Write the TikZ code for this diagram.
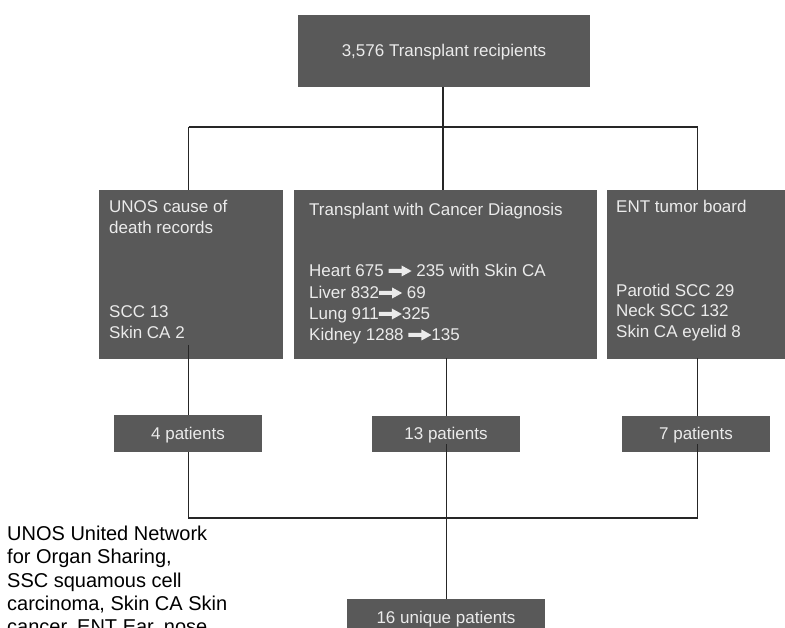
\documentclass[tikz,border=0pt]{standalone}
\usepackage{fontspec}
\setmainfont{Liberation Sans}
\definecolor{boxgray}{HTML}{595959}
\definecolor{boxtext}{HTML}{EBEBEB}
\newcommand\fatarrow{\tikz[baseline=0pt,x=1pt,y=1pt]\fill[boxtext] (0,4) -- (13,4) -- (13,0.5) -- (23,6) -- (13,11.5) -- (13,8) -- (0,8) -- cycle;}
\begin{document}
\begin{tikzpicture}[x=1pt,y=-1pt,
  darkbox/.style={fill=boxgray, inner sep=0pt, draw=none},
  boxline/.style={text=boxtext, anchor=base west, inner sep=0pt, font=\fontsize{17}{21}\selectfont},
  boxlabel/.style={text=boxtext, anchor=base, inner sep=0pt, font=\fontsize{17}{21}\selectfont},
  note/.style={text=black, anchor=base west, inner sep=0pt, font=\fontsize{20}{24}\selectfont},
  conn/.style={draw=black!85, line width=1.6pt}]
\clip (0,0) rectangle (785,628);
\useasboundingbox (0,0) rectangle (785,628);
\fill[white] (0,0) rectangle (785,628);

% boxes
\node[darkbox, minimum width=292pt, minimum height=72pt] (top) at (444,51) {};
\node[darkbox, minimum width=184pt, minimum height=169pt] (unos) at (191,274.5) {};
\node[darkbox, minimum width=303pt, minimum height=169pt] (tcd) at (445.5,274.5) {};
\node[darkbox, minimum width=179pt, minimum height=169pt] (ent) at (696.5,274.5) {};
\node[darkbox, minimum width=148pt, minimum height=37pt] (p4) at (188,433.5) {};
\node[darkbox, minimum width=148pt, minimum height=36pt] (p13) at (446,434) {};
\node[darkbox, minimum width=148pt, minimum height=36pt] (p7) at (696,434) {};
\node[darkbox, minimum width=198pt, minimum height=42pt] (p16) at (446,620) {};

% texts
\node[boxlabel] (ttop) at (444,57) {3,576 Transplant recipients};
\node[boxline] (u1) at (109,213) {UNOS cause of};
\node[boxline] (u2) at (109,234) {death records};
\node[boxline] (u3) at (109,318) {SCC 13};
\node[boxline] (u4) at (109,339) {Skin CA 2};
\node[boxline] (c1) at (309,216) {Transplant with Cancer Diagnosis};
\node[boxline] (c2) at (309,277) {Heart 675 \fatarrow{} 235 with Skin CA};
\node[boxline] (c3) at (309,299) {Liver 832\fatarrow{} 69};
\node[boxline] (c4) at (309,320) {Lung 911\fatarrow325};
\node[boxline] (c5) at (309,341) {Kidney 1288 \fatarrow135};
\node[boxline] (e1) at (616,213) {ENT tumor board};
\node[boxline] (e2) at (616,297) {Parotid SCC 29};
\node[boxline] (e3) at (616,317) {Neck SCC 132};
\node[boxline] (e4) at (616,338) {Skin CA eyelid 8};
\node[boxlabel] (t4) at (188,439) {4 patients};
\node[boxlabel] (t13) at (446,439) {13 patients};
\node[boxlabel] (t7) at (696,439) {7 patients};
\node[boxlabel] (t16) at (446,623) {16 unique patients};

% footnote
\node[note] (n1) at (7,540) {UNOS United Network};
\node[note] (n2) at (7,563.5) {for Organ Sharing,};
\node[note] (n3) at (7,587) {SSC squamous cell};
\node[note] (n4) at (7,610) {carcinoma, Skin CA Skin};
\node[note] (n5) at (7,633.5) {cancer, ENT Ear, nose};

% connectors
\coordinate (hl) at (188.5,127);
\coordinate (hr) at (697.5,127);
\coordinate (hm) at (443,127);
\draw[conn] (top.south -| hm) -- (hm);
\draw[conn] (hl) -- (hr);
\draw[conn] (hl) -- (hl |- unos.north);
\draw[conn] (hm) -- (hm |- tcd.north);
\draw[conn] (hr) -- (hr |- ent.north);

\coordinate (ul) at (188.5,345);
\draw[conn] (ul) -- (ul |- p4.north);
\coordinate (um) at (446.5,358);
\draw[conn] (um) -- (um |- p13.north);
\coordinate (ur) at (697.5,358);
\draw[conn] (ur) -- (ur |- p7.north);

\coordinate (ll) at (188.5,518);
\coordinate (lr) at (697.5,518);
\coordinate (lm) at (446.5,444);
\coordinate (lr0) at (697.5,444);
\draw[conn] (p4.south -| ll) -- (ll) -- (lr) -- (lr0);
\draw[conn] (lm) -- (lm |- p16.north);
\end{tikzpicture}
\end{document}
